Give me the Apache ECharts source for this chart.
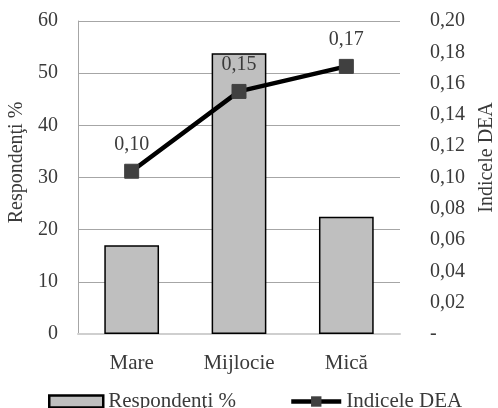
<!DOCTYPE html>
<html>
<head>
<meta charset="utf-8">
<script src="https://cdn.jsdelivr.net/npm/echarts@6/dist/echarts.min.js"></script>
<style>html,body{margin:0;padding:0;background:#fff;}#c{width:498px;height:408px;}</style>
</head>
<body>
<div id="c"></div>
<script>
const categories = ['Mare', 'Mijlocie', 'Mică'];
const respondenti = [17, 53.8, 22.5];
const indiceDEA = [0.104, 0.155, 0.171];
const seriesNames = ['Respondenţi %', 'Indicele DEA'];

const FONT = '"Liberation Serif", "Times New Roman", serif';
const TXT = '#3a3a3a';
const fmt = v => v === 0 ? '-' : v.toFixed(2).replace('.', ',');

const chart = echarts.init(document.getElementById('c'), null, {renderer: 'canvas'});
chart.setOption({
  animation: false,
  backgroundColor: '#fff',
  textStyle: {fontFamily: FONT, color: TXT},
  grid: {left: 78, right: 98, top: 21, bottom: 74, containLabel: false, outerBoundsMode: 'none'},
  legend: [
    {data: [{name: seriesNames[0], icon: 'rect', itemStyle: {color: '#bfbfbf', borderColor: '#000', borderWidth: 2.5}}],
     left: 48, top: 391, padding: 0, itemWidth: 54, itemHeight: 12, itemGap: 5,
     textStyle: {fontFamily: FONT, fontSize: 21, color: TXT}},
    {data: [seriesNames[1]], left: 289, top: 391, padding: 0, itemWidth: 50, itemHeight: 13, itemGap: 5,
     lineStyle: {color: '#000', width: 4.5},
     textStyle: {fontFamily: FONT, fontSize: 21, color: TXT}}
  ],
  xAxis: {
    type: 'category', data: categories,
    axisLine: {show: true, lineStyle: {color: '#cfcfcf', width: 2}},
    axisTick: {show: false},
    axisLabel: {fontFamily: FONT, fontSize: 21, color: TXT, margin: 19}
  },
  yAxis: [
    {
      type: 'value', min: 0, max: 60, interval: 10,
      name: seriesNames[0], nameLocation: 'middle', nameGap: 50, nameRotate: 90,
      nameTextStyle: {fontFamily: FONT, fontSize: 20, color: TXT, padding: [0,0,0,30]},
      axisLine: {show: true, lineStyle: {color: '#a6a6a6', width: 1}},
      axisTick: {show: false},
      axisLabel: {fontFamily: FONT, fontSize: 20, color: TXT, margin: 20},
      splitLine: {show: true, lineStyle: {color: '#a6a6a6', width: 1}}
    },
    {
      type: 'value', min: 0, max: 0.2, interval: 0.02, position: 'right',
      name: seriesNames[1], nameLocation: 'middle', nameGap: 77, nameRotate: 90,
      nameTextStyle: {fontFamily: FONT, fontSize: 20, color: TXT, padding: [0,0,0,40]},
      axisLine: {show: false}, axisTick: {show: false},
      axisLabel: {fontFamily: FONT, fontSize: 20, color: TXT, margin: 30, formatter: fmt},
      splitLine: {show: false}
    }
  ],
  series: [
    {
      name: seriesNames[0], type: 'bar', data: respondenti, yAxisIndex: 0,
      barWidth: '51%',
      itemStyle: {color: '#bfbfbf', borderColor: '#000', borderWidth: 1.5}
    },
    {
      name: seriesNames[1], type: 'line', data: indiceDEA, yAxisIndex: 1,
      symbol: 'rect', symbolSize: 14,
      lineStyle: {color: '#000', width: 4.5},
      itemStyle: {color: '#404040', borderColor: '#404040'},
      label: {show: true, position: 'top', distance: 9, fontFamily: FONT, fontSize: 20, color: TXT,
        formatter: p => fmt(Number(p.value.toFixed(2)))}
    }
  ]
});
</script>
</body>
</html>
